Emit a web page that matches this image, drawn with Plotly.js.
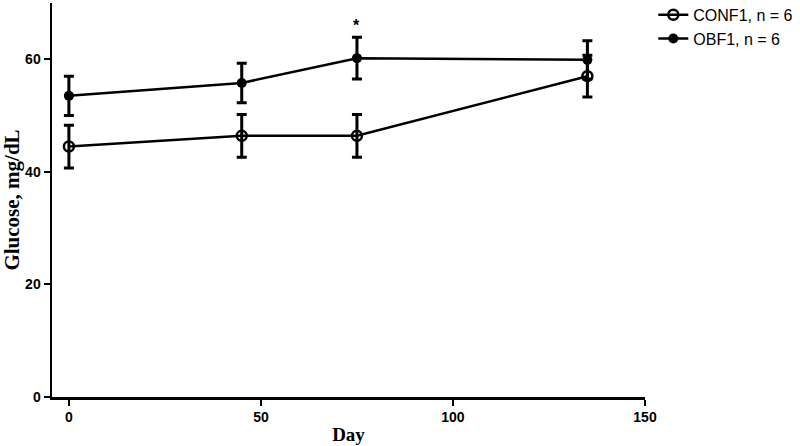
<!DOCTYPE html>
<html><head><meta charset="utf-8">
<script src="https://cdn.plot.ly/plotly-3.0.1.min.js"></script>
<style>html,body{margin:0;padding:0;background:#fff}#c{width:800px;height:446px}</style>
</head><body><div id="c"></div>
<script>
const days = [0, 45, 75, 135];
const conf1 = [44.5, 46.4, 46.4, 57.0];
const conf1Err = [3.8, 3.8, 3.8, 3.7];
const obf1 = [53.5, 55.8, 60.2, 59.9];
const obf1Err = [3.5, 3.5, 3.7, 3.4];
const names = ['CONF1, n = 6', 'OBF1, n = 6'];
const xTicks = [0, 50, 100, 150];
const yTicks = [0, 20, 40, 60];

const errStyle = {type: 'data', visible: true, color: '#000', thickness: 3, width: 5};
const traces = [
  {x: days, y: conf1, name: names[0], mode: 'lines+markers', type: 'scatter',
   line: {color: '#000', width: 2.5},
   marker: {symbol: 'circle-open', size: 10, color: '#000', line: {width: 2.5, color: '#000'}},
   error_y: Object.assign({array: conf1Err}, errStyle)},
  {x: days, y: obf1, name: names[1], mode: 'lines+markers', type: 'scatter',
   line: {color: '#000', width: 2.5},
   marker: {symbol: 'circle', size: 10, color: '#000'},
   error_y: Object.assign({array: obf1Err}, errStyle)}
];
const tickFont = {family: 'Liberation Sans, Arial, sans-serif', size: 14, color: '#000', weight: 'bold'};
const layout = {
  width: 800, height: 446,
  margin: {l: 52, r: 155, t: 3, b: 49, autoexpand: false},
  paper_bgcolor: '#fff', plot_bgcolor: '#fff',
  showlegend: true,
  legend: {x: 1.014, y: 1.013, xanchor: 'left', yanchor: 'top', itemwidth: 30,
    font: {family: 'Liberation Sans, Arial, sans-serif', size: 16, color: '#000'},
    tracegroupgap: 0, bgcolor: 'rgba(0,0,0,0)'},
  xaxis: {range: [-4.4, 150], tickvals: xTicks, ticktext: xTicks.map(String), automargin: false,
    showgrid: false, zeroline: false, showline: true, linewidth: 2.5, linecolor: '#000',
    ticks: 'outside', ticklen: 6, tickwidth: 2, tickcolor: '#000', tickfont: tickFont,
    title: {text: 'Day', standoff: 4, font: {family: 'Liberation Serif, Times New Roman, serif', size: 19, color: '#000', weight: 'bold'}}},
  yaxis: {range: [0, 70], tickvals: yTicks, ticktext: yTicks.map(String), automargin: false,
    showgrid: false, zeroline: false, showline: true, linewidth: 2.5, linecolor: '#000',
    ticks: 'outside', ticklen: 6, tickwidth: 2, tickcolor: '#000', tickfont: tickFont,
    title: {text: 'Glucose, mg/dL', standoff: 6, font: {family: 'Liberation Serif, Times New Roman, serif', size: 21, color: '#000', weight: 'bold'}}},
  annotations: [{x: days[2], y: obf1[2] + obf1Err[2], yshift: 12, text: '*', showarrow: false,
    font: {family: 'Liberation Sans, Arial, sans-serif', size: 16, color: '#000', weight: 'bold'}}]
};
Plotly.newPlot('c', traces, layout, {displayModeBar: false, staticPlot: true});
</script></body></html>
